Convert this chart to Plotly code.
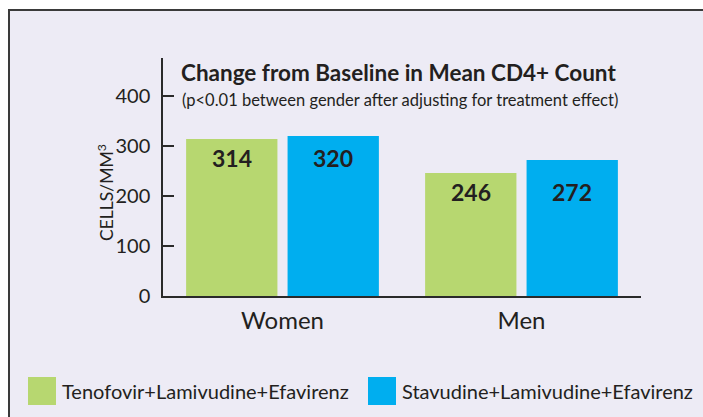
import plotly.graph_objects as go

categories = ["Women", "Men"]
series_names = ["Tenofovir+Lamivudine+Efavirenz", "Stavudine+Lamivudine+Efavirenz"]
tenofovir = [314, 246]
stavudine = [320, 272]
y_ticks = [0, 100, 200, 300, 400]

colors = ["#B7D770", "#00AEEF"]
FONT = "Lato"
TXT = "#231F20"

fig = go.Figure()
for name, vals, col in zip(series_names, [tenofovir, stavudine], colors):
    fig.add_trace(go.Bar(
        x=categories, y=vals, name=name,
        marker=dict(color=col, line=dict(width=0)),
        hoverinfo="skip", showlegend=False,
    ))

# value labels: aligned per group just below the lower bar top
bar_shift = [-50.5, 50.5]
group_level = [min(a, b) for a, b in zip(tenofovir, stavudine)]
for si, vals in enumerate([tenofovir, stavudine]):
    for cat, v, lvl in zip(categories, vals, group_level):
        fig.add_annotation(
            x=cat, y=lvl, xref="x", yref="y", text="<b>%d</b>" % v,
            showarrow=False, xshift=bar_shift[si], yanchor="middle", yshift=-19,
            font=dict(family=FONT, size=23, color=TXT),
        )

W, H = 703, 417
L, R, T, B = 163, 62, 58, 121
pw, ph = W - L - R, H - T - B

def px(xp):
    return (xp - L) / pw

def py(yp):
    return (H - B - yp) / ph

# panel frame
fig.add_shape(type="rect", xref="paper", yref="paper",
              x0=px(9), x1=px(730), y0=py(440), y1=py(10),
              fillcolor="#EDEBF5", line=dict(color="#3A3A3A", width=2), layer="below")

fig.add_annotation(xref="paper", yref="paper", x=px(179), y=py(72),
                   text="<b>Change from Baseline in Mean CD4+ Count</b>",
                   showarrow=False, xanchor="left", yanchor="middle",
                   font=dict(family=FONT, size=22.5, color=TXT))
fig.add_annotation(xref="paper", yref="paper", x=px(180), y=py(100),
                   text="(p<0.01 between gender after adjusting for treatment effect)",
                   showarrow=False, xanchor="left", yanchor="middle",
                   font=dict(family=FONT, size=16.5, color=TXT))
fig.add_annotation(xref="paper", yref="paper", x=px(105), y=py(193),
                   text="CELLS/MM<sup>3</sup>", textangle=-90,
                   showarrow=False, xanchor="center", yanchor="middle",
                   font=dict(family=FONT, size=17.5, color=TXT))

# legend (swatches + labels)
legend_x = [28, 368]
for name, col, lx in zip(series_names, colors, legend_x):
    fig.add_shape(type="rect", xref="paper", yref="paper",
                  x0=px(lx), x1=px(lx + 28), y0=py(405), y1=py(377),
                  fillcolor=col, line=dict(width=0), layer="above")
    fig.add_annotation(xref="paper", yref="paper", x=px(lx + 32), y=py(391),
                       text=name, showarrow=False, xanchor="left", yanchor="middle",
                       font=dict(family=FONT, size=20, color=TXT))

fig.update_layout(
    width=W, height=H,
    margin=dict(l=L, r=R, t=T, b=B, pad=0, autoexpand=False),
    paper_bgcolor="white", plot_bgcolor="rgba(0,0,0,0)",
    barmode="group", bargap=0.151, bargroupgap=0.1,
    showlegend=False,
    font=dict(family=FONT, color=TXT),
)
fig.update_xaxes(showline=True, linecolor="#2A2A2A", linewidth=2, ticks="",
                 tickfont=dict(family=FONT, size=24, color=TXT), showgrid=False,
                 range=[-0.5, 1.5], fixedrange=True, ticklabelstandoff=2)
fig.update_yaxes(showline=True, linecolor="#2A2A2A", linewidth=1.5,
                 ticks="inside", ticklen=11, tickcolor="#2A2A2A", tickwidth=2,
                 layer="above traces",
                 tickmode="array", tickvals=y_ticks,
                 tickfont=dict(family=FONT, size=20, color=TXT),
                 showgrid=False, zeroline=False, range=[0, 476], fixedrange=True,
                 ticklabelstandoff=7)

fig.write_html(
    "out.html",
    config={"displayModeBar": False},
    post_script="document.body.style.margin='0';document.body.style.overflow='hidden';",
)
